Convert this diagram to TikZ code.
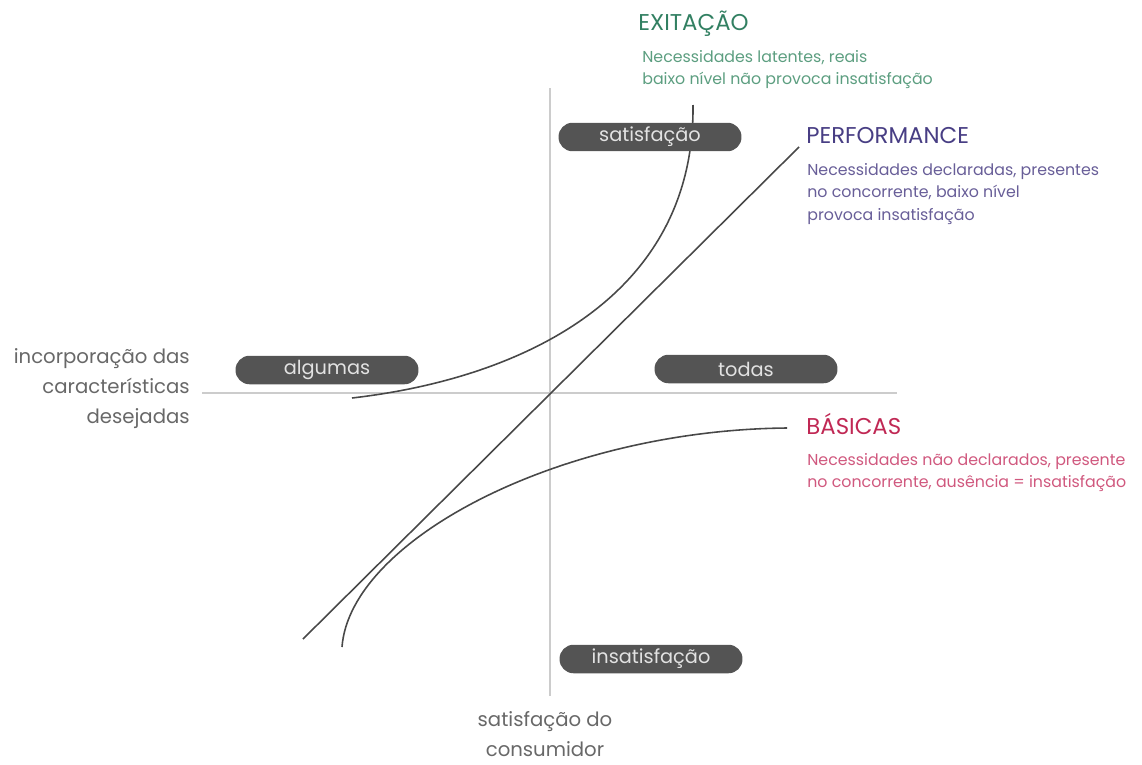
\documentclass[tikz,border=0pt]{standalone}
\usepackage{fontspec}
\setmainfont{Poppins}
\usetikzlibrary{positioning}

\definecolor{exitverde}{RGB}{50,128,98}
\definecolor{exitclaro}{RGB}{92,158,128}
\definecolor{perfroxo}{RGB}{72,62,132}
\definecolor{perfclaro}{RGB}{104,94,152}
\definecolor{basicrosa}{RGB}{192,40,84}
\definecolor{basicclaro}{RGB}{208,88,126}
\definecolor{pilulacinza}{RGB}{84,84,84}
\definecolor{pilulatexto}{RGB}{226,226,226}
\definecolor{curvacinza}{RGB}{72,72,72}
\definecolor{eixocinza}{RGB}{204,204,204}
\definecolor{rotulocinza}{RGB}{104,104,104}

\tikzset{
  pilula/.style={fill=pilulacinza, text=pilulatexto, rounded corners=0.28cm,
    minimum width=3.66cm, minimum height=0.57cm, inner sep=0pt,
    font=\fontsize{11}{13}\selectfont},
  curva/.style={draw=curvacinza, line width=0.9pt},
  eixo/.style={draw=eixocinza, line width=0.7pt},
  titulo/.style={anchor=base west, inner sep=0pt, font=\fontsize{13}{15}\selectfont},
  descricao/.style={anchor=north west, align=left, inner sep=0pt,
    font=\fontsize{9}{12.8}\selectfont},
  rotulo/.style={text=rotulocinza, inner sep=0pt, font=\fontsize{11.2}{17}\selectfont},
}

\begin{document}
\begin{tikzpicture}[x=0.02cm,y=-0.02cm]
    \useasboundingbox (0,0) rectangle (1142,764);

    % Eixos
    \coordinate (hini) at (202,393);
    \coordinate (hfim) at (897,393);
    \coordinate (vini) at (550,88);
    \coordinate (vfim) at (550,696);
    \draw[eixo] (hini) -- (hfim);
    \draw[eixo] (vini) -- (vfim);

    % Curvas
    \coordinate (exitini) at (352,398);
    \coordinate (exitfim) at (693,105);
    \coordinate (perfini) at (303,639);
    \coordinate (perffim) at (799,147);
    \coordinate (basicini) at (342,647);
    \coordinate (basicfim) at (787,428);
    \draw[curva] (exitini) .. controls (525,378) and (695,295) .. (exitfim);
    \draw[curva] (perfini) -- (perffim);
    \draw[curva] (basicini) .. controls (350,540) and (560,430) .. (basicfim);

    % Pilulas
    \node[pilula] (satisf) at (650,137) {satisfação};
    \node[pilula] (algumas) at (327,370) {algumas};
    \node[pilula] (todas) at (746,369) {todas};
    \node[pilula] (insatisf) at (651,659) {insatisfação};

    % Rotulos dos eixos
    \node[rotulo, anchor=base east, align=right] (incorp) at (190,423)
        {incorporação das\\características\\desejadas};
    \node[rotulo, anchor=north, align=center] (consum) at (545,711)
        {satisfação do\\consumidor};

    % Tipos de necessidade
    \node[titulo, text=exitverde] (exit) at (638,31) {EXITAÇÃO};
    \node[descricao, text=exitclaro] (exitdesc) at (642,50)
        {Necessidades latentes, reais\\baixo nível não provoca insatisfação};

    \node[titulo, text=perfroxo] (perf) at (806,143) {PERFORMANCE};
    \node[descricao, text=perfclaro] (perfdesc) at (807,163)
        {Necessidades declaradas, presentes\\no concorrente, baixo nível\\provoca insatisfação};

    \node[titulo, text=basicrosa] (basic) at (806,434) {BÁSICAS};
    \node[descricao, text=basicclaro] (basicdesc) at (807,453)
        {Necessidades não declarados, presente\\no concorrente, ausência = insatisfação};

\end{tikzpicture}
\end{document}
